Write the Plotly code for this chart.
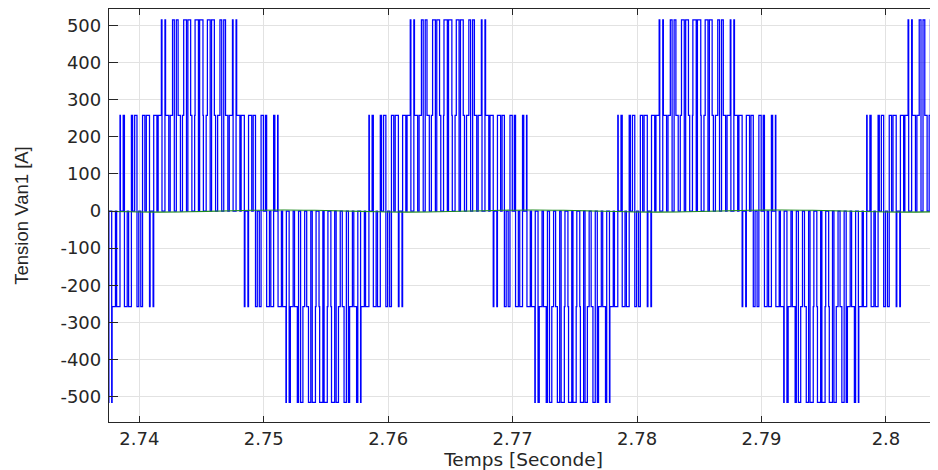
import plotly.graph_objects as go

# ---------------- data ----------------
# switching instants of Van1 in milliseconds, one row = one carrier period
switch_ms = [
    # first fundamental cycle
    2735.819, 2736.005, 2736.148, 2736.310, 2736.453, 2736.639,
    2736.803, 2736.901, 2737.125, 2737.237, 2737.461, 2737.559,
    2737.782, 2737.816, 2738.085, 2738.181, 2738.450, 2738.484,
    2738.708, 2738.806, 2739.030, 2739.142, 2739.366, 2739.464,
    2739.628, 2739.814, 2739.957, 2740.119, 2740.262, 2740.448,
    2740.564, 2740.821, 2740.871, 2741.109, 2741.159, 2741.416,
    2741.517, 2741.774, 2741.824, 2742.062, 2742.112, 2742.369,
    2742.485, 2742.671, 2742.814, 2742.976, 2743.119, 2743.305,
    2743.470, 2743.568, 2743.792, 2743.904, 2744.128, 2744.226,
    2744.449, 2744.483, 2744.752, 2744.848, 2745.117, 2745.151,
    2745.374, 2745.472, 2745.696, 2745.808, 2746.032, 2746.130,
    2746.295, 2746.481, 2746.624, 2746.786, 2746.929, 2747.115,
    2747.231, 2747.488, 2747.538, 2747.776, 2747.826, 2748.083,
    2748.184, 2748.441, 2748.491, 2748.729, 2748.779, 2749.036,
    2749.152, 2749.338, 2749.481, 2749.643, 2749.786, 2749.972,
    2750.136, 2750.234, 2750.458, 2750.570, 2750.794, 2750.892,
    2751.116, 2751.150, 2751.419, 2751.515, 2751.784, 2751.818,
    2752.041, 2752.139, 2752.363, 2752.475, 2752.699, 2752.797,
    2752.961, 2753.147, 2753.290, 2753.452, 2753.595, 2753.781,
    2753.898, 2754.155, 2754.205, 2754.443, 2754.493, 2754.750,
    # second cycle
    2754.850, 2755.107, 2755.157, 2755.395, 2755.445, 2755.702,
    2755.819, 2756.005, 2756.148, 2756.310, 2756.453, 2756.639,
    2756.803, 2756.901, 2757.125, 2757.237, 2757.461, 2757.559,
    2757.782, 2757.816, 2758.085, 2758.181, 2758.450, 2758.484,
    2758.708, 2758.806, 2759.030, 2759.142, 2759.366, 2759.464,
    2759.628, 2759.814, 2759.957, 2760.119, 2760.262, 2760.448,
    2760.564, 2760.821, 2760.871, 2761.109, 2761.159, 2761.416,
    2761.517, 2761.774, 2761.824, 2762.062, 2762.112, 2762.369,
    2762.485, 2762.671, 2762.814, 2762.976, 2763.119, 2763.305,
    2763.470, 2763.568, 2763.792, 2763.904, 2764.128, 2764.226,
    2764.449, 2764.483, 2764.752, 2764.848, 2765.117, 2765.151,
    2765.374, 2765.472, 2765.696, 2765.808, 2766.032, 2766.130,
    2766.295, 2766.481, 2766.624, 2766.786, 2766.929, 2767.115,
    2767.231, 2767.488, 2767.538, 2767.776, 2767.826, 2768.083,
    2768.184, 2768.441, 2768.491, 2768.729, 2768.779, 2769.036,
    2769.152, 2769.338, 2769.481, 2769.643, 2769.786, 2769.972,
    2770.136, 2770.234, 2770.458, 2770.570, 2770.794, 2770.892,
    2771.116, 2771.150, 2771.419, 2771.515, 2771.784, 2771.818,
    2772.041, 2772.139, 2772.363, 2772.475, 2772.699, 2772.797,
    2772.961, 2773.147, 2773.290, 2773.452, 2773.595, 2773.781,
    2773.898, 2774.155, 2774.205, 2774.443, 2774.493, 2774.750,
    # third cycle
    2774.850, 2775.107, 2775.157, 2775.395, 2775.445, 2775.702,
    2775.819, 2776.005, 2776.148, 2776.310, 2776.453, 2776.639,
    2776.803, 2776.901, 2777.125, 2777.237, 2777.461, 2777.559,
    2777.782, 2777.816, 2778.085, 2778.181, 2778.450, 2778.484,
    2778.708, 2778.806, 2779.030, 2779.142, 2779.366, 2779.464,
    2779.628, 2779.814, 2779.957, 2780.119, 2780.262, 2780.448,
    2780.564, 2780.821, 2780.871, 2781.109, 2781.159, 2781.416,
    2781.517, 2781.774, 2781.824, 2782.062, 2782.112, 2782.369,
    2782.485, 2782.671, 2782.814, 2782.976, 2783.119, 2783.305,
    2783.470, 2783.568, 2783.792, 2783.904, 2784.128, 2784.226,
    2784.449, 2784.483, 2784.752, 2784.848, 2785.117, 2785.151,
    2785.374, 2785.472, 2785.696, 2785.808, 2786.032, 2786.130,
    2786.295, 2786.481, 2786.624, 2786.786, 2786.929, 2787.115,
    2787.231, 2787.488, 2787.538, 2787.776, 2787.826, 2788.083,
    2788.184, 2788.441, 2788.491, 2788.729, 2788.779, 2789.036,
    2789.152, 2789.338, 2789.481, 2789.643, 2789.786, 2789.972,
    2790.136, 2790.234, 2790.458, 2790.570, 2790.794, 2790.892,
    2791.116, 2791.150, 2791.419, 2791.515, 2791.784, 2791.818,
    2792.041, 2792.139, 2792.363, 2792.475, 2792.699, 2792.797,
    2792.961, 2793.147, 2793.290, 2793.452, 2793.595, 2793.781,
    2793.898, 2794.155, 2794.205, 2794.443, 2794.493, 2794.750,
    # fourth (partial) cycle
    2794.850, 2795.107, 2795.157, 2795.395, 2795.445, 2795.702,
    2795.819, 2796.005, 2796.148, 2796.310, 2796.453, 2796.639,
    2796.803, 2796.901, 2797.125, 2797.237, 2797.461, 2797.559,
    2797.782, 2797.816, 2798.085, 2798.181, 2798.450, 2798.484,
    2798.708, 2798.806, 2799.030, 2799.142, 2799.366, 2799.464,
    2799.628, 2799.814, 2799.957, 2800.119, 2800.262, 2800.448,
    2800.564, 2800.821, 2800.871, 2801.109, 2801.159, 2801.416,
    2801.517, 2801.774, 2801.824, 2802.062, 2802.112, 2802.369,
    2802.485, 2802.671, 2802.814, 2802.976, 2803.119, 2803.305,
    2803.470, 2803.568, 2803.792, 2803.904, 2804.128, 2804.226,
    2804.449, 2804.483, 2804.752, 2804.848, 2805.117, 2805.151,
]

# Van1 level (V) held after each switching instant
van_level = [
    # first cycle
    -516, -258, 0, -258, -516, 0,
    -516, -258, 0, -258, -516, 0,
    -516, -258, 0, -258, 258, 0,
    258, -258, 0, -258, 258, 0,
    258, -258, 0, -258, 258, 0,
    258, -258, 0, -258, 258, 0,
    258, 516, 0, 516, 258, 0,
    258, 516, 0, 516, 258, 0,
    258, 516, 0, 516, 258, 0,
    258, 516, 0, 516, 258, 0,
    258, 516, 0, 516, 258, 0,
    258, 516, 0, 516, 258, 0,
    258, 516, 0, 516, 258, 0,
    258, -258, 0, -258, 258, 0,
    258, -258, 0, -258, 258, 0,
    258, -258, 0, -258, 258, 0,
    258, -258, 0, -258, -516, 0,
    -516, -258, 0, -258, -516, 0,
    -516, -258, 0, -258, -516, 0,
    -516, -258, 0, -258, -516, 0,
    # second cycle
    -516, -258, 0, -258, -516, 0,
    -516, -258, 0, -258, -516, 0,
    -516, -258, 0, -258, -516, 0,
    -516, -258, 0, -258, 258, 0,
    258, -258, 0, -258, 258, 0,
    258, -258, 0, -258, 258, 0,
    258, -258, 0, -258, 258, 0,
    258, 516, 0, 516, 258, 0,
    258, 516, 0, 516, 258, 0,
    258, 516, 0, 516, 258, 0,
    258, 516, 0, 516, 258, 0,
    258, 516, 0, 516, 258, 0,
    258, 516, 0, 516, 258, 0,
    258, 516, 0, 516, 258, 0,
    258, -258, 0, -258, 258, 0,
    258, -258, 0, -258, 258, 0,
    258, -258, 0, -258, 258, 0,
    258, -258, 0, -258, -516, 0,
    -516, -258, 0, -258, -516, 0,
    -516, -258, 0, -258, -516, 0,
    -516, -258, 0, -258, -516, 0,
    # third cycle
    -516, -258, 0, -258, -516, 0,
    -516, -258, 0, -258, -516, 0,
    -516, -258, 0, -258, -516, 0,
    -516, -258, 0, -258, 258, 0,
    258, -258, 0, -258, 258, 0,
    258, -258, 0, -258, 258, 0,
    258, -258, 0, -258, 258, 0,
    258, 516, 0, 516, 258, 0,
    258, 516, 0, 516, 258, 0,
    258, 516, 0, 516, 258, 0,
    258, 516, 0, 516, 258, 0,
    258, 516, 0, 516, 258, 0,
    258, 516, 0, 516, 258, 0,
    258, 516, 0, 516, 258, 0,
    258, -258, 0, -258, 258, 0,
    258, -258, 0, -258, 258, 0,
    258, -258, 0, -258, 258, 0,
    258, -258, 0, -258, -516, 0,
    -516, -258, 0, -258, -516, 0,
    -516, -258, 0, -258, -516, 0,
    -516, -258, 0, -258, -516, 0,
    # fourth (partial) cycle
    -516, -258, 0, -258, -516, 0,
    -516, -258, 0, -258, -516, 0,
    -516, -258, 0, -258, -516, 0,
    -516, -258, 0, -258, 258, 0,
    258, -258, 0, -258, 258, 0,
    258, -258, 0, -258, 258, 0,
    258, -258, 0, -258, 258, 0,
    258, 516, 0, 516, 258, 0,
    258, 516, 0, 516, 258, 0,
    258, 516, 0, 516, 258, 0,
    258, 516, 0, 516, 258, 0,
]

# green trace (small signal near zero)
green_t_ms = [2736.6, 2739.1, 2741.6, 2744.1, 2746.6, 2749.1, 2751.6, 2754.1,
              2756.6, 2759.1, 2761.6, 2764.1, 2766.6, 2769.1, 2771.6, 2774.1,
              2776.6, 2779.1, 2781.6, 2784.1, 2786.6, 2789.1, 2791.6, 2794.1,
              2796.6, 2799.1, 2801.6, 2804.1, 2806.6]
green_v = [0, -2, -3, -2, 0, 2, 3, 2,
           0, -2, -3, -2, 0, 2, 3, 2,
           0, -2, -3, -2, 0, 2, 3, 2,
           0, -2, -3, -2, 0]

x_tick_vals = [2.74, 2.75, 2.76, 2.77, 2.78, 2.79, 2.80]
x_tick_text = ["2.74", "2.75", "2.76", "2.77", "2.78", "2.79", "2.8"]
y_tick_vals = [-500, -400, -300, -200, -100, 0, 100, 200, 300, 400, 500]
y_tick_text = ["-500", "-400", "-300", "-200", "-100", "0", "100", "200", "300", "400", "500"]

x_title = "Temps [Seconde]"
y_title = "Tension Van1 [A]"

# ---------------- figure ----------------
t_s = [v / 1000.0 for v in switch_ms]
g_s = [v / 1000.0 for v in green_t_ms]

AX = "#262626"
GRID = "#e2e2e2"

fig = go.Figure()
fig.add_trace(go.Scatter(
    x=t_s, y=van_level, mode="lines",
    line=dict(color="#0000ff", width=1.25, shape="hv"),
    hoverinfo="skip", showlegend=False,
))
fig.add_trace(go.Scatter(
    x=g_s, y=green_v, mode="lines",
    line=dict(color="#1e8c1e", width=1.1, shape="spline"),
    hoverinfo="skip", showlegend=False,
))

# the page body adds an 8 px offset; the figure is sized to fill the rest
fig.update_layout(
    width=930, height=462,
    margin=dict(l=101, r=0, t=1, b=48, autoexpand=False),
    paper_bgcolor="white", plot_bgcolor="white",
    showlegend=False,
)
fig.update_xaxes(
    range=[2.737566, 2.80418], autorange=False,
    tickmode="array", tickvals=x_tick_vals, ticktext=x_tick_text,
    showgrid=True, gridcolor=GRID, gridwidth=1, zeroline=False,
    showline=True, linecolor=AX, linewidth=1.3, mirror="ticks",
    ticks="inside", ticklen=6, tickwidth=1.3, tickcolor=AX,
    tickfont=dict(family="DejaVu Sans", size=18, color=AX),
    ticklabelstandoff=0,
    title=dict(text=x_title, font=dict(family="DejaVu Sans", size=18.5, color=AX), standoff=12),
    automargin=False,
)
fig.update_yaxes(
    range=[-569, 545], autorange=False,
    tickmode="array", tickvals=y_tick_vals, ticktext=y_tick_text,
    showgrid=True, gridcolor=GRID, gridwidth=1, zeroline=False,
    showline=True, linecolor=AX, linewidth=1.3, mirror=False,
    ticks="inside", ticklen=9, tickwidth=1.3, tickcolor=AX,
    tickfont=dict(family="DejaVu Sans", size=18, color=AX),
    ticklabelstandoff=3,
    title=dict(text=y_title, font=dict(family="Liberation Sans", size=18.5, color=AX), standoff=26),
    automargin=False,
)

fig.write_html("out.html")
